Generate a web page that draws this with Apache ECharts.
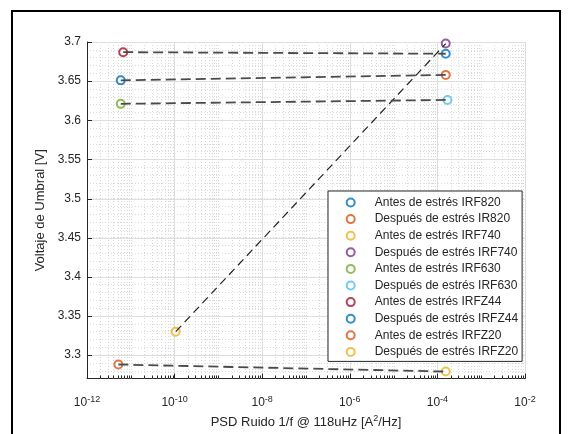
<!DOCTYPE html>
<html>
<head>
<meta charset="utf-8" />
<title>ECharts</title>
<script src="https://cdn.jsdelivr.net/npm/echarts@6.0.0/dist/echarts.min.js"></script>
<style>html, body { margin: 0; padding: 0; background: #fff; }</style>
</head>
<body>
<div id="main" style="width: 571px; height: 434px;"></div>
<script type="text/javascript">
// data (legend order)
var seriesNames = [
    'Antes de estrés IRF820', 'Después de estrés IR820',
    'Antes de estrés IRF740', 'Después de estrés IRF740',
    'Antes de estrés IRF630', 'Después de estrés IRF630',
    'Antes de estrés IRFZ44', 'Después de estrés IRFZ44',
    'Antes de estrés IRFZ20', 'Después de estrés IRFZ20'
];
var psdValues = [5.9e-12, 1.55e-4, 1.06e-10, 1.55e-4, 5.9e-12, 1.7e-4, 6.7e-12, 1.55e-4, 5.2e-12, 1.55e-4];
var vthValues = [3.651, 3.658, 3.330, 3.698, 3.621, 3.626, 3.687, 3.685, 3.288, 3.279];
var yTicks = [3.3, 3.35, 3.4, 3.45, 3.5, 3.55, 3.6, 3.65, 3.7];
var xTicks = [1e-12, 1e-10, 1e-8, 1e-6, 1e-4, 1e-2];

// matlab default colour order
var colors = ['#0072BD', '#D95319', '#EDB120', '#7E2F8E', '#77AC30', '#4DBEEE', '#A2142F', '#0072BD', '#D95319', '#EDB120'];
var font = 'Liberation Sans, Arial, sans-serif';
var yMin = 3.27, yMax = 3.7;

// minor log grid: 1..9 x 10^e, majors excluded
var xMinor = [];
for (var e = -12; e < -2; e++) {
    for (var m = 1; m <= 9; m++) {
        if (m === 1 && e % 2 === 0) continue;
        xMinor.push(m * Math.pow(10, e));
    }
}

var myChart = echarts.init(document.getElementById('main'));

function renderGrid(params, api) {
    var cs = params.coordSys;
    var bottom = cs.y + cs.height;
    var kids = [];
    xMinor.forEach(function (v) {
        var x = Math.round(api.coord([v, 3.5])[0]) + 0.5;
        kids.push({ type: 'line', shape: { x1: x, y1: cs.y, x2: x, y2: bottom },
            style: { stroke: '#d9d9d9', lineWidth: 1, lineDash: [1, 2] } });
        kids.push({ type: 'line', shape: { x1: x, y1: bottom, x2: x, y2: bottom - 3 },
            style: { stroke: '#262626', lineWidth: 1 } });
    });
    yTicks.forEach(function (v) {
        var y = Math.round(api.coord([1e-8, v])[1]) + 0.5;
        kids.push({ type: 'line', shape: { x1: cs.x, y1: y, x2: cs.x + cs.width, y2: y },
            style: { stroke: '#dedede', lineWidth: 1 } });
        kids.push({ type: 'line', shape: { x1: cs.x, y1: y, x2: cs.x + 5, y2: y },
            style: { stroke: '#262626', lineWidth: 1 } });
    });
    return { type: 'group', children: kids };
}

var series = [{
    type: 'custom',
    silent: true,
    clip: false,
    z: 1,
    renderItem: renderGrid,
    data: [[1e-8, 3.5]]
}];

seriesNames.forEach(function (name, i) {
    series.push({
        name: name,
        type: 'scatter',
        symbol: 'emptyCircle',
        symbolSize: 8,
        z: 2,
        itemStyle: { color: colors[i], borderWidth: 1.1 },
        data: [[psdValues[i], vthValues[i]]]
    });
});

// dashed lines antes -> despues
for (var i = 0; i < seriesNames.length; i += 2) {
    series.push({
        type: 'line',
        silent: true,
        z: 3,
        symbol: 'none',
        lineStyle: i === 2
            ? { color: '#222', width: 1.2, type: [8, 5] }
            : { color: '#4a4a4a', width: 1.8, type: [10, 5] },
        data: [[psdValues[i], vthValues[i]], [psdValues[i + 1], vthValues[i + 1]]]
    });
}

var option = {
    animation: false,
    backgroundColor: '#fff',
    grid: { left: 87, right: 46, top: 42, bottom: 50 },
    xAxis: {
        type: 'log',
        logBase: 10,
        min: xTicks[0],
        max: xTicks[xTicks.length - 1],
        interval: 2,
        name: '{a|PSD Ruido 1/f @ 118uHz [A}{s|2}{a|/Hz]}',
        nameLocation: 'middle',
        nameGap: 34,
        nameTextStyle: {
            rich: {
                a: { fontFamily: font, fontSize: 13, color: '#262626' },
                s: { fontFamily: font, fontSize: 9, color: '#262626', padding: [0, 0, 8, 0] }
            }
        },
        axisLine: { lineStyle: { color: '#262626' } },
        axisTick: { inside: true, length: 5, lineStyle: { color: '#262626' } },
        axisLabel: {
            margin: 16,
            formatter: function (v) {
                var ex = Math.round(Math.log(v) / Math.LN10);
                return '{b|10}{s|' + ex + '}';
            },
            rich: {
                b: { fontFamily: font, fontSize: 12, color: '#262626' },
                s: { fontFamily: font, fontSize: 9, color: '#262626', padding: [0, 0, 8, 0] }
            }
        },
        splitLine: { show: true, lineStyle: { color: '#dedede' } }
    },
    yAxis: {
        type: 'value',
        min: yMin,
        max: yMax,
        interval: 0.01,
        name: 'Voltaje de Umbral [V]',
        nameLocation: 'middle',
        nameGap: 36,
        nameTextStyle: { fontFamily: font, fontSize: 13, color: '#262626' },
        axisLine: { show: true, lineStyle: { color: '#262626' } },
        axisTick: { show: false },
        axisLabel: {
            margin: 6,
            fontFamily: font,
            fontSize: 12,
            color: '#262626',
            formatter: function (v) {
                var k = Math.round(v * 100);
                return k % 5 === 0 && v > 3.28 ? String(k / 100) : '';
            }
        },
        splitLine: { show: true, lineStyle: { color: '#dcdcdc', type: [1, 2] } }
    },
    legend: {
        data: seriesNames,
        orient: 'vertical',
        left: 328,
        top: 191,
        itemWidth: 38,
        itemHeight: 8,
        itemGap: 3.6,
        padding: [5, 4, 3, 17.7],
        backgroundColor: '#fff',
        borderColor: '#262626',
        borderWidth: 1,
        selectedMode: false,
        textStyle: { fontFamily: font, fontSize: 12, color: '#262626', lineHeight: 13 }
    },
    graphic: [{
        type: 'rect',
        silent: true,
        shape: { x: 12, y: 11, width: 548, height: 440 },
        style: { fill: 'transparent', stroke: '#000', lineWidth: 2 }
    }],
    series: series
};

myChart.setOption(option);
</script>
</body>
</html>
